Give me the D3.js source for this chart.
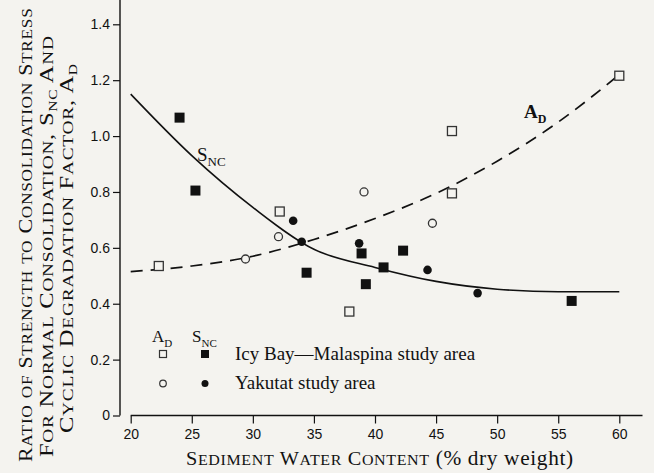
<!DOCTYPE html>
<html>
<head>
<meta charset="utf-8">
<script src="https://cdn.jsdelivr.net/npm/d3@7"></script>
<style>
  body { margin: 0; background: #f4f3ef; }
  svg { display: block; }
</style>
</head>
<body>
<div id="chart"></div>
<script>
// Icy Bay—Malaspina study area: A_D (open squares), S_NC (filled squares)
const icyAD = [[22.3, 0.535], [32.2, 0.73], [37.9, 0.372], [46.3, 1.018], [46.3, 0.795], [60, 1.216]];
const icySNC = [[24.0, 1.066], [25.3, 0.805], [34.4, 0.511], [38.9, 0.58], [39.25, 0.47], [40.7, 0.53], [42.3, 0.59], [56.1, 0.41]];
// Yakutat study area: A_D (open circles), S_NC (filled circles)
const yakAD = [[29.4, 0.56], [32.1, 0.64], [39.1, 0.80], [44.7, 0.688]];
const yakSNC = [[33.3, 0.697], [34.0, 0.622], [38.7, 0.616], [44.3, 0.521], [48.4, 0.438]];

// fitted curves
const sncCurve = [[20, 1.15], [25, 0.93], [30, 0.745], [35, 0.595], [40, 0.53], [45, 0.48], [50, 0.452], [55, 0.443], [60, 0.443]];
const adCurve = [[20, 0.515], [25, 0.535], [30, 0.57], [35, 0.63], [40, 0.705], [45, 0.795], [50, 0.91], [55, 1.05], [60, 1.22]];

const xTicks = [20, 25, 30, 35, 40, 45, 50, 55, 60];
const yTicks = [0, 0.2, 0.4, 0.6, 0.8, 1.0, 1.2, 1.4];
const legendRows = ["Icy Bay\u2014Malaspina study area", "Yakutat study area"];

const width = 654, height = 473;
const serif = "'Liberation Serif', 'Times New Roman', serif";
const sans = "'Liberation Sans', Arial, sans-serif";
const ink = "#111";

const x = d3.scaleLinear([20, 60], [130.7, 619.3]);
const y = d3.scaleLinear([0, 1.4], [415.5, 24.3]);

const svg = d3.select("#chart").append("svg")
  .attr("width", width)
  .attr("height", height)
  .attr("viewBox", [0, 0, width, height]);

svg.append("rect").attr("width", width).attr("height", height).attr("fill", "#f4f3ef");

// y axis
svg.append("g")
  .attr("transform", `translate(${x(20) - 10.7},0)`)
  .call(d3.axisLeft(y).tickValues(yTicks).tickSize(7).tickSizeOuter(0)
    .tickFormat(d => d === 0 ? "0" : d3.format(".1f")(d)))
  .call(g => g.select(".domain").remove())
  .call(g => g.selectAll(".tick line").attr("stroke", ink).attr("stroke-width", 1.2))
  .call(g => g.selectAll(".tick text").attr("font-family", sans).attr("font-size", 14)
    .attr("fill", ink).attr("x", -10));

svg.append("line")
  .attr("x1", x(20) - 10.7).attr("x2", x(20) - 10.7)
  .attr("y1", 0).attr("y2", y(0))
  .attr("stroke", ink).attr("stroke-width", 1.4);

// x axis
svg.append("g")
  .attr("transform", `translate(0,${y(0)})`)
  .call(d3.axisBottom(x).tickValues(xTicks).tickSize(8).tickSizeOuter(0))
  .call(g => g.select(".domain").remove())
  .call(g => g.selectAll(".tick line").attr("stroke", ink).attr("stroke-width", 1.2))
  .call(g => g.selectAll(".tick text").attr("font-family", sans).attr("font-size", 14)
    .attr("fill", ink).attr("y", 14));

svg.append("line")
  .attr("x1", x(20)).attr("x2", x(61.9))
  .attr("y1", y(0)).attr("y2", y(0))
  .attr("stroke", ink).attr("stroke-width", 1.4);

// curves
const line = d3.line().x(d => x(d[0])).y(d => y(d[1])).curve(d3.curveMonotoneX);

svg.append("path")
  .attr("d", line(sncCurve))
  .attr("fill", "none").attr("stroke", ink).attr("stroke-width", 1.6);

svg.append("path")
  .attr("d", line(adCurve))
  .attr("fill", "none").attr("stroke", ink).attr("stroke-width", 1.7)
  .attr("stroke-dasharray", "12,8");

// points
function squares(data, filled, size) {
  svg.append("g").selectAll("rect").data(data).join("rect")
    .attr("x", d => x(d[0]) - size / 2)
    .attr("y", d => y(d[1]) - size / 2)
    .attr("width", size).attr("height", size)
    .attr("fill", filled ? ink : "#f4f3ef")
    .attr("stroke", filled ? "none" : "#333")
    .attr("stroke-width", 1.3);
}
function circles(data, filled, r) {
  svg.append("g").selectAll("circle").data(data).join("circle")
    .attr("cx", d => x(d[0])).attr("cy", d => y(d[1]))
    .attr("r", r)
    .attr("fill", filled ? ink : "#f4f3ef")
    .attr("stroke", filled ? "none" : "#333")
    .attr("stroke-width", 1.3);
}
squares(icyAD, false, 9);
squares(icySNC, true, 10);
circles(yakAD, false, 4);
circles(yakSNC, true, 4.3);

// label with subscript helper
function subLabel(g, main, sub, size, subSize) {
  g.append("tspan").text(main).attr("font-size", size);
  g.append("tspan").text(sub).attr("font-size", subSize).attr("dy", size * 0.28);
  return g;
}

// small caps by hand: capitals big, lowercase runs uppercased and smaller
function caps(g, str, big, small) {
  str.match(/[a-z]+|[^a-z]+/g).forEach(r => {
    g.append("tspan").attr("font-size", /[a-z]/.test(r) ? small : big).text(r.toUpperCase());
  });
  return g;
}
// widen the glyphs a little so a line covers the same length as in the figure
function fit(g, base, target) {
  g.attr("letter-spacing", 0.6);
  const len = g.node().getComputedTextLength();
  g.attr("transform", `${base} scale(${target / len},1)`);
}

// curve labels
const sLab = svg.append("text").attr("x", 197).attr("y", 161)
  .attr("font-family", serif).attr("fill", ink);
sLab.append("tspan").text("S").attr("font-size", 19);
sLab.append("tspan").text("NC").attr("font-size", 13).attr("dy", 5);
subLabel(svg.append("text").attr("x", 524).attr("y", 118)
  .attr("font-family", serif).attr("fill", ink).attr("font-weight", "bold"), "A", "D", 19, 12);

// legend
const lg = svg.append("g").attr("font-family", serif).attr("fill", ink);
subLabel(lg.append("text").attr("x", 152).attr("y", 342), "A", "D", 17, 11);
subLabel(lg.append("text").attr("x", 192).attr("y", 342), "S", "NC", 17, 11);
legendRows.forEach((label, i) => {
  const cy = 354 + i * 29.5;
  if (i === 0) {
    lg.append("rect").attr("x", 159.5).attr("y", cy - 3.5).attr("width", 7).attr("height", 7)
      .attr("fill", "none").attr("stroke", "#333").attr("stroke-width", 1.2);
    lg.append("rect").attr("x", 201).attr("y", cy - 4).attr("width", 8).attr("height", 8);
  } else {
    lg.append("circle").attr("cx", 163).attr("cy", cy).attr("r", 3.3)
      .attr("fill", "none").attr("stroke", "#333").attr("stroke-width", 1.2);
    lg.append("circle").attr("cx", 205).attr("cy", cy).attr("r", 3.5);
  }
  lg.append("text").attr("x", 235).attr("y", cy + 5.5)
    .attr("font-size", 19).text(label);
});

// x axis title
const xt = svg.append("text").attr("font-family", serif).attr("fill", ink);
caps(xt, "Sediment Water Content", 19, 15);
xt.append("tspan").attr("font-size", 20).text(" (% dry weight)");
fit(xt, "translate(186,465)", 388);

// y axis title, three lines reading upward
const yt = svg.append("g").attr("font-family", serif).attr("fill", ink);

const l1 = yt.append("text");
caps(l1, "Ratio of Strength to Consolidation Stress", 19, 15);
fit(l1, "translate(32,462) rotate(-90)", 455);

const l2 = yt.append("text");
caps(l2, "For Normal Consolidation, S", 19, 15);
l2.append("tspan").text("NC").attr("font-size", 12).attr("dy", 4);
l2.append("tspan").text(" ").attr("font-size", 15).attr("dy", -4);
caps(l2, "And", 19, 15);
fit(l2, "translate(53,457) rotate(-90)", 422);

const l3 = yt.append("text");
caps(l3, "Cyclic Degradation Factor, A", 19, 15);
l3.append("tspan").text("D").attr("font-size", 12).attr("dy", 4);
fit(l3, "translate(73,433) rotate(-90)", 370);
</script>
</body>
</html>
